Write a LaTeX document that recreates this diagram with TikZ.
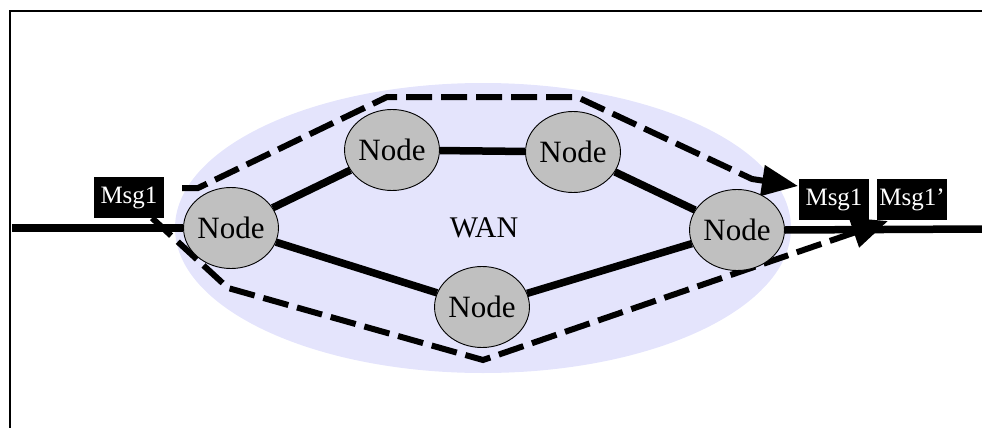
\documentclass[tikz,border=0pt]{standalone}
\usepackage{fontspec}
\setmainfont{Liberation Serif}
\usetikzlibrary{shapes.geometric,arrows.meta}
\definecolor{wanfill}{RGB}{228,228,252}
\definecolor{nodegray}{RGB}{192,192,192}
\begin{document}
\begin{tikzpicture}[x=1pt,y=-1pt,
  cloud/.style={ellipse, fill=wanfill, minimum width=616pt, minimum height=290pt, inner sep=0pt},
  router/.style={ellipse, draw=black, line width=0.9pt, fill=nodegray,
    minimum width=85pt, minimum height=81pt, inner sep=0pt,
    font=\fontsize{31}{34}\selectfont},
  link/.style={line width=7.5pt},
  route/.style={line width=6pt, dash pattern=on 26pt off 9pt, miter limit=10},
  msg/.style={fill=black, text=white, minimum width=70pt, minimum height=41pt,
    inner sep=0pt, font=\fontsize{25}{28}\selectfont},
  tip/.style={-{Triangle[length=36pt,width=30pt]}},
  frame/.style={line width=1.3pt}
]
\useasboundingbox (0,0) rectangle (982,428);

% frame
\coordinate (fb) at (10,428);
\coordinate (fc) at (10,11);
\coordinate (fr) at (982,11);
\draw[frame] (fb) -- (fc) -- (fr);

% network cloud
\node[cloud] (wan) at (483,228) {};
\node[font=\fontsize{30}{34}\selectfont] (wanlabel) at (484,228) {WAN};

% message labels
\node[msg] (msgin) at (129,197.5) {Msg1};
\node[msg] (msgout) at (834,199.5) {Msg1};
\node[msg] (msgout2) at (912,199.5) {Msg1’};

% routes taken through the network
\coordinate (u0) at (182,188);
\coordinate (u1) at (198,188);
\coordinate (u2) at (387,97);
\coordinate (u3) at (577,97);
\coordinate (u4) at (752,179);
\coordinate (u5) at (798,186);
\draw[route,tip] (u0) -- (u1) -- (u2) -- (u3) -- (u4) -- (u5);

\coordinate (l0) at (152,218);
\coordinate (l1) at (228,288);
\coordinate (l2) at (483,360);
\coordinate (l3) at (888,221);
\draw[route,tip] (l0) -- (l1) -- (l2) -- (l3);

% nodes
\node[router] (n1) at (231,228) {Node};
\node[router] (n2) at (392,150) {Node};
\node[router] (n3) at (573,152) {Node};
\node[router] (n4) at (482,307) {Node};
\node[router] (n5) at (737,230) {Node};

% links
\coordinate (inL) at (12,228);
\coordinate (outR) at (982,229);
\draw[link] (inL) -- (n1.west);
\draw[link] (n5.east) -- (outR);
\draw[link] (n1) -- (n2);
\draw[link] (n2) -- (n3);
\draw[link] (n3) -- (n5);
\draw[link] (n1) -- (n4);
\draw[link] (n4) -- (n5);
\end{tikzpicture}
\end{document}
